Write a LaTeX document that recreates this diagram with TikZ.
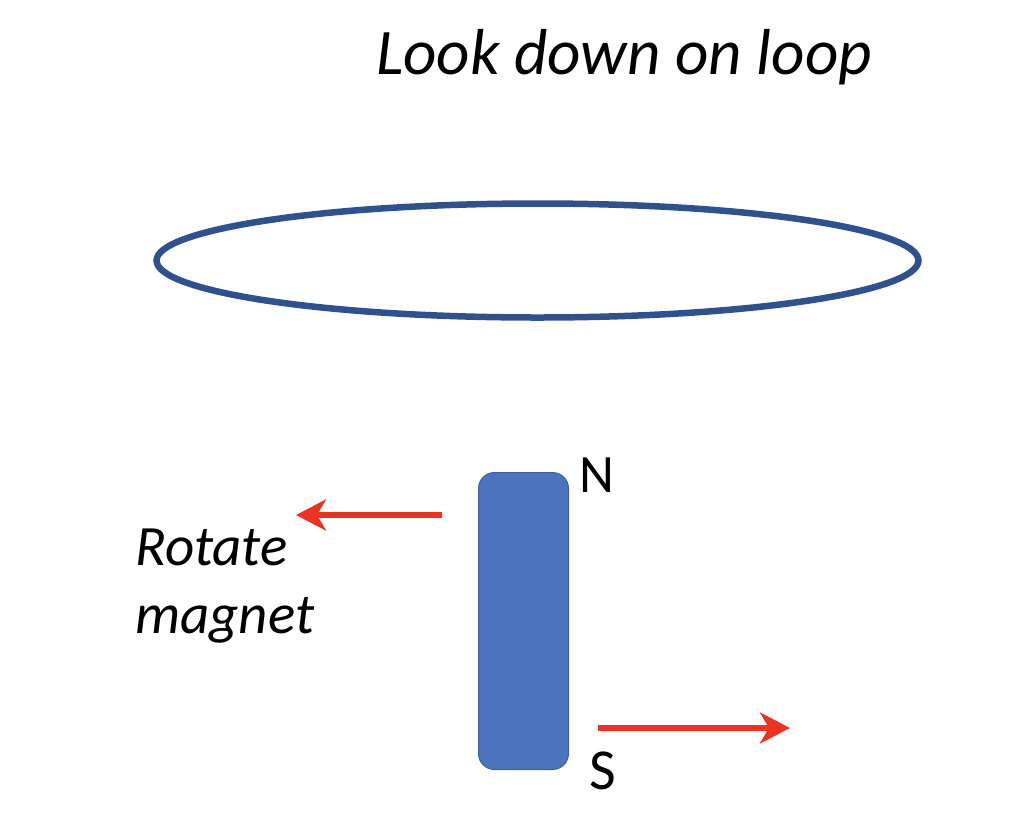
\documentclass[tikz,border=0pt]{standalone}
\usepackage{fontspec}
\setmainfont{Carlito}
\usepackage{tikz}
\usetikzlibrary{calc}
\usetikzlibrary{arrows.meta}
\definecolor{loopblue}{RGB}{47,82,143}
\definecolor{magnetblue}{RGB}{76,116,190}
\definecolor{magnetedge}{RGB}{60,95,160}
\definecolor{arrowred}{RGB}{235,50,35}
\begin{document}
\begin{tikzpicture}[x=1pt,y=-1pt]
     \tikzstyle{every node}=[inner sep=0pt,text=black]
     \tikzstyle{slantedtitle}=[font=\fontsize{65}{70}\selectfont\itshape]
     \tikzstyle{slantedlabel}=[font=\fontsize{57}{62}\selectfont\itshape]
     \tikzstyle{pole}=[font=\fontsize{54}{60}\selectfont]
     \tikzstyle{rotatearrow}=[draw=arrowred,fill=arrowred,line width=5.4pt,-{Stealth[length=30pt,width=31pt,inset=9pt]}]
      \useasboundingbox (0,0) rectangle (1024,820);
      \coordinate (LoopCenter) at (537.5,260.5);
      \coordinate (ArrowTopEnd) at (296,515);
      \coordinate (ArrowTopStart) at (442,515);
      \coordinate (ArrowBottomStart) at (598,728);
      \coordinate (ArrowBottomEnd) at (790,728);
      \node [slantedtitle,anchor=base west] (Title) at (376,74) {Look down on loop};
      \draw [loopblue,line width=6.5pt] (LoopCenter) ellipse (381 and 57);
      \node [draw=magnetedge,fill=magnetblue,line width=1pt,rounded corners=16pt,minimum width=90pt,minimum height=297pt] (Magnet) at (523.5,621) {};
      \node [pole,anchor=base west] (North) at (579,492) {N};
      \node [pole,anchor=base west,font=\fontsize{58}{64}\selectfont] (South) at (589,789) {S};
      \node [slantedlabel,anchor=base west] (Rotate) at (135,565) {Rotate};
      \node [slantedlabel,anchor=base west] (RotateMagnet) at (135,633) {magnet};
      \draw [rotatearrow] (ArrowTopStart) -- (ArrowTopEnd);
      \draw [rotatearrow] (ArrowBottomStart) -- (ArrowBottomEnd);
    \end{tikzpicture}
\end{document}
